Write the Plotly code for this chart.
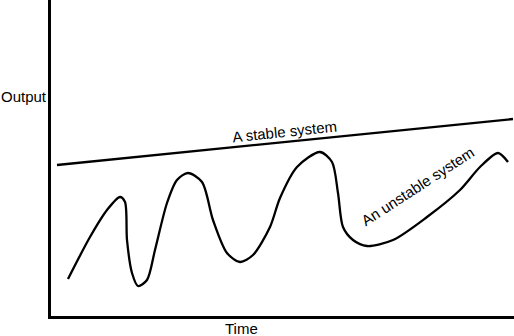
import plotly.graph_objects as go

# Unstable system (time, output)
unstable_time = [17, 39, 56, 69, 74, 76, 81, 87, 96, 104, 116, 126, 137, 151, 162, 176,
                 189, 202, 219, 229, 246, 269, 281, 287, 292, 302, 316, 342, 376, 409,
                 429, 447, 457]
unstable_output = [37, 79, 106, 119, 114, 76, 43, 30, 36, 66, 113, 136, 143, 134, 96, 63,
                   54, 61, 89, 118, 149, 164, 154, 123, 89, 76, 70, 76, 99, 126,
                   149, 163, 154]

# Stable system
stable_time = [6, 462]
stable_output = [151, 197]

fig = go.Figure()
fig.add_trace(go.Scatter(x=stable_time, y=stable_output, mode="lines",
                         line=dict(color="black", width=2.3), hoverinfo="skip"))
fig.add_trace(go.Scatter(x=unstable_time, y=unstable_output, mode="lines",
                         line=dict(color="black", width=2.3, shape="spline", smoothing=0.8),
                         hoverinfo="skip"))

font = dict(family="Liberation Sans, Arial, sans-serif", size=15, color="black")
fig.add_annotation(x=233, y=185, xref="x", yref="y", text="A stable system",
                   showarrow=False, textangle=-6, font=font)
fig.add_annotation(x=366, y=130, xref="x", yref="y", text="An unstable system",
                   showarrow=False, textangle=-33, font=font)
fig.add_annotation(x=(24 - 51) / 463, y=(316 - 97) / 316, xref="paper", yref="paper",
                   xanchor="center", yanchor="middle",
                   text="Output", showarrow=False, font=font)
fig.add_annotation(x=(241 - 51) / 463, y=(316 - 328) / 316, xref="paper", yref="paper",
                   xanchor="center", yanchor="middle",
                   text="Time", showarrow=False, font=font)

fig.update_xaxes(range=[0, 463], showline=True, linecolor="black", linewidth=2.5,
                 showgrid=False, zeroline=False, showticklabels=False, ticks="")
fig.update_yaxes(range=[0, 316], showline=True, linecolor="black", linewidth=2.5,
                 showgrid=False, zeroline=False, showticklabels=False, ticks="")
fig.update_layout(width=514, height=336, margin=dict(l=51, r=0, t=0, b=20),
                  paper_bgcolor="white", plot_bgcolor="white", showlegend=False)
fig.write_html("out.html")
